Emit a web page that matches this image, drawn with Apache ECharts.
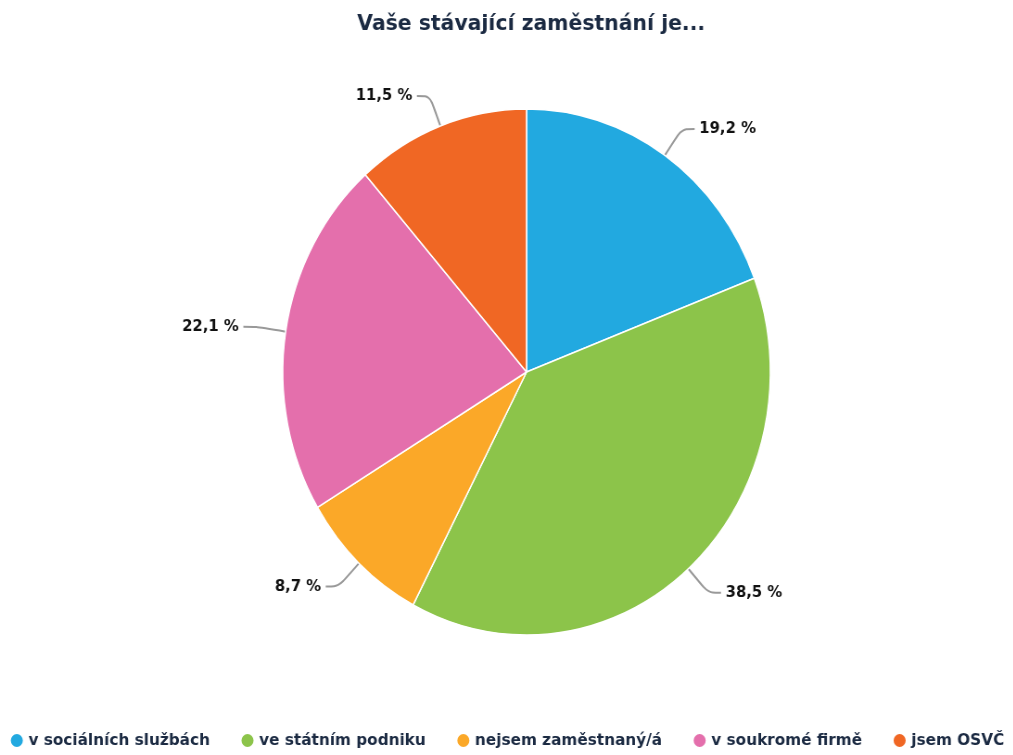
<!DOCTYPE html>
<html>
<head>
<meta charset="utf-8">
<script src="https://cdn.jsdelivr.net/npm/echarts@6/dist/echarts.min.js"></script>
<style>
  html, body { margin: 0; padding: 0; background: #fff; overflow: hidden; }
  #wrap { width: 1013px; height: 755px; overflow: hidden; }
  /* reference is squeezed horizontally, so draw wider and scale down */
  #chart { width: 1093px; height: 755px; transform: scaleX(0.927); transform-origin: 0 0; }
</style>
</head>
<body>
<div id="wrap"><div id="chart"></div></div>
<script>
const categories = ['v sociálních službách', 've státním podniku', 'nejsem zaměstnaný/á', 'v soukromé firmě', 'jsem OSVČ']
const values = [19.2, 38.5, 8.7, 22.1, 11.5]
const colors = ['#22a9e0', '#8cc44a', '#fba828', '#e46fac', '#f06724']

const font = '"DejaVu Sans", sans-serif'

const chart = echarts.init(document.getElementById('chart'))
chart.setOption({
  color: colors,
  title: {
    text: 'Vaše stávající zaměstnání je...',
    left: 568,
    textAlign: 'center',
    top: 8,
    textStyle: { fontFamily: font, fontSize: 22, fontWeight: 'bold', color: '#1b2a42' }
  },
  legend: {
    data: categories,
    bottom: 1,
    left: 'center',
    icon: 'circle',
    itemWidth: 15,
    itemHeight: 15,
    itemGap: 32,
    textStyle: { fontFamily: font, fontSize: 16.5, fontWeight: 'bold', color: '#1b2a42' }
  },
  series: [{
    type: 'pie',
    center: [568, 372],
    radius: 263,
    startAngle: 90,
    clockwise: true,
    itemStyle: { borderColor: '#fff', borderWidth: 1.5 },
    label: {
      formatter: p => p.value.toFixed(1).replace('.', ',') + ' %',
      fontFamily: font,
      fontSize: 16,
      fontWeight: 'bold',
      color: '#111'
    },
    labelLine: {
      length: 32,
      length2: 14,
      smooth: 0.3,
      lineStyle: { color: '#999', width: 2 }
    },
    emphasis: { scale: false },
    data: categories.map((c, i) => ({ name: c, value: values[i] }))
  }]
})
</script>
</body>
</html>
